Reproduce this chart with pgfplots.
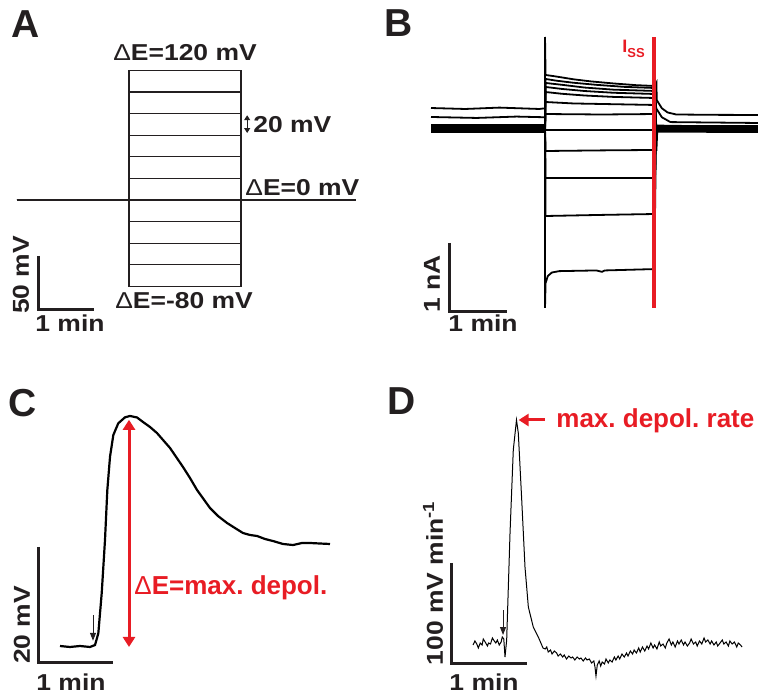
\documentclass[border=0pt]{standalone}
\usepackage{fontspec}
\setmainfont{Liberation Sans}
\usepackage{graphicx}
\usepackage{pgfplots}
\pgfplotsset{compat=1.18}
\usetikzlibrary{arrows.meta}
\definecolor{ink}{RGB}{35,31,32}
\definecolor{figred}{RGB}{232,28,36}
\newcommand\letterfont{\fontsize{19.5}{20}\selectfont\bfseries}
\newcommand\lblfont{\fontsize{11.5}{12}\selectfont\bfseries}
\newcommand\redfont{\fontsize{13}{14}\selectfont\bfseries}
\newcommand\lbl[1]{\scalebox{1.15}[1]{#1}}
\newcommand\D{{\mdseries Δ}}
\frenchspacing
\begin{document}
\begin{tikzpicture}
\useasboundingbox (0,0) rectangle (379pt,347.5pt);
\pgfplotsset{panel/.style={hide axis, clip=false, scale only axis, anchor=south west}}

% ---------------- Panel A: voltage protocol (x: min, y: mV)
\begin{axis}[panel, at={(8.5pt,188.1pt)}, x=28pt, y=0.54pt, xmin=0, xmax=6.1, ymin=-110, ymax=130]
\foreach \E in {-80,-60,-40,-20,20,40,60,80,100,120}{
  \edef\tmp{\noexpand\addplot[ink, line width=0.6pt] coordinates {(0,0)(2,0)(2,\E)(4,\E)(4,0)(6.05,0)};}
  \tmp
}
\addplot[ink, line width=0.6pt] coordinates {(0,0)(6.05,0)};
\addplot[ink, line width=1.5pt] coordinates {(0.375,-51.85)(0.375,-101.85)(1.375,-101.85)};
\draw[ink, line width=0.6pt, {Triangle[width=3pt,length=2.5pt]}-{Triangle[width=3pt,length=2.5pt]}] (axis cs:4.11,78.5) -- (axis cs:4.11,62);
\end{axis}

% ---------------- Panel B: currents (x: min, y: nA)
\begin{axis}[panel, at={(215.5pt,186.4pt)}, x=28.5pt, y=34.5pt, xmin=0, xmax=5.8, ymin=-2.8, ymax=1.5]
\addplot[black, line width=0.9pt] coordinates {(0,0.304)(0.6,0.29)(1.2,0.31)(1.9,0.29)(2.0,0.30)(2.0,1.333)(2.01,0.783)(2.2,0.76)(2.5,0.72)(2.8,0.69)(3.2,0.66)(3.6,0.635)(3.93,0.623)(3.955,0.667)(3.96,0.42)(4.05,0.30)(4.15,0.24)(4.3,0.21)(5.0,0.205)(5.74,0.203)};
\addplot[black, line width=0.9pt] coordinates {(0,0.174)(0.8,0.16)(1.5,0.18)(2.0,0.17)(2.01,0.725)(2.2,0.70)(2.5,0.67)(2.9,0.64)(3.4,0.61)(3.93,0.594)(3.95,0.30)(4.05,0.17)(4.2,0.10)(5.74,0.087)};
\addplot[black, line width=0.9pt] coordinates {(0,0.058)(2.0,0.058)(2.01,0.667)(2.3,0.64)(2.7,0.60)(3.2,0.57)(3.93,0.551)(3.95,0.05)(5.74,0.029)};
\addplot[black, line width=0.9pt] coordinates {(0,0.029)(2.0,0.029)(2.01,0.609)(2.3,0.58)(2.7,0.55)(3.2,0.525)(3.93,0.507)(3.95,0.01)(5.74,0.0)};
\addplot[black, line width=0.9pt] coordinates {(0,0.0)(2.0,0.0)(2.01,0.536)(2.3,0.51)(2.7,0.485)(3.2,0.465)(3.93,0.449)(3.95,-0.02)(5.74,-0.029)};
\addplot[black, line width=0.9pt] coordinates {(0,-0.029)(2.0,-0.029)(2.01,0.391)(2.5,0.37)(3.93,0.348)(3.95,-0.04)(5.74,-0.043)};
\addplot[black, line width=0.9pt] coordinates {(0,-0.043)(2.0,-0.043)(2.01,0.217)(3.0,0.21)(3.93,0.217)(3.95,0.0)(5.74,0.0)};
\addplot[black, line width=0.9pt] coordinates {(0,0.0)(2.0,0.0)(2.01,-0.014)(3.93,-0.014)(3.95,0.014)(5.74,0.014)};
\addplot[black, line width=0.9pt] coordinates {(0,0.014)(2.0,0.014)(2.01,-0.319)(3.0,-0.31)(3.93,-0.304)(3.95,-0.014)(5.74,-0.014)};
\addplot[black, line width=0.9pt] coordinates {(0,-0.014)(2.0,-0.014)(2.01,-0.71)(3.93,-0.71)(3.95,-0.029)(5.74,-0.029)};
\addplot[black, line width=0.9pt] coordinates {(0,0.043)(2.0,0.043)(2.01,-1.261)(3.0,-1.245)(3.93,-1.232)(3.95,0.043)(5.74,0.043)};
\addplot[black, line width=0.9pt] coordinates {(0,-0.029)(2.0,-0.029)(2.0,-2.594)(2.01,-2.232)(2.05,-2.13)(2.12,-2.08)(2.25,-2.06)(2.9,-2.05)(3.0,-2.07)(3.05,-2.05)(3.93,-2.03)(3.93,-0.304)(3.955,-0.304)(3.97,-0.01)(5.74,-0.014)};
\addplot[figred, line width=2pt] coordinates {(3.912,-2.594)(3.912,1.333)};
\addplot[ink, line width=1.5pt] coordinates {(0.333,-1.652)(0.333,-2.652)(1.333,-2.652)};
\end{axis}

% ---------------- Panel C: membrane potential (x: min, y: mV)
\begin{axis}[panel, at={(11.25pt,10pt)}, x=37.5pt, y=2.9pt, xmin=-0.5, xmax=4, ymin=-5, ymax=45]
\addplot[black, line width=1.1pt] coordinates {(0,0)(0.133,-0.17)(0.267,0)(0.4,-0.17)(0.467,0.17)(0.511,2.19)(0.556,9.09)(0.6,18.28)(0.631,26.9)(0.667,32.64)(0.711,36.38)(0.777,38.4)(0.867,39.43)(0.933,39.66)(1.027,39.4)(1.107,38.62)(1.2,37.76)(1.293,36.72)(1.467,34.14)(1.64,30.86)(1.733,28.97)(1.827,26.9)(2.0,23.79)(2.107,22.41)(2.227,21.21)(2.333,20.34)(2.44,19.48)(2.533,19.14)(2.627,18.97)(2.733,18.45)(2.84,18.1)(2.973,17.59)(3.107,17.41)(3.227,17.76)(3.333,17.76)(3.467,17.67)(3.6,17.59)};
\addplot[ink, line width=1.5pt] coordinates {(-0.293,17.07)(-0.293,-2.93)(0.707,-2.93)};
\draw[figred, line width=1.5pt, {Triangle[width=6pt,length=5pt]}-{Triangle[width=6pt,length=5pt]}] (axis cs:0.92,39.0) -- (axis cs:0.92,-0.17);
\draw[ink, line width=0.5pt, -{Triangle[width=3pt,length=4pt]}] (axis cs:0.44,5.3) -- (axis cs:0.44,0.9);
\end{axis}

% ---------------- Panel D: depolarisation rate (x: min, y: mV/min)
\begin{axis}[panel, at={(217.5pt,5pt)}, x=38pt, y=0.5pt, xmin=-0.5, xmax=3.8, ymin=-40, ymax=260]
\addplot[black, line width=0.5pt] coordinates {(0,0)(0.025,4)(0.05,1)(0.07,-3)(0.095,2)(0.12,0)(0.135,6)(0.16,3)(0.19,-1)(0.205,2)(0.23,1)(0.255,7)(0.28,4)(0.3,2)(0.32,5)(0.345,0)(0.37,3)(0.385,8)(0.405,6)(0.421,-12)(0.443,5)(0.487,112)(0.530,195)(0.572,225)(0.596,212)(0.641,145)(0.684,78)(0.728,38)(0.793,18)(0.859,8)(0.921,-3)(0.95,-4)(0.97,-2)(0.99,-7)(1.02,-5)(1.04,-9)(1.07,-6)(1.10,-8)(1.12,-11)(1.15,-9)(1.18,-12)(1.2,-10)(1.23,-14)(1.26,-11)(1.29,-13)(1.31,-12)(1.34,-15)(1.37,-12)(1.40,-14)(1.42,-13)(1.45,-16)(1.48,-13)(1.5,-15)(1.53,-14)(1.56,-18)(1.59,-16)(1.605,-22)(1.618,-31)(1.635,-20)(1.66,-16)(1.68,-21)(1.70,-17)(1.73,-19)(1.75,-14)(1.78,-18)(1.80,-15)(1.83,-17)(1.86,-12)(1.88,-15)(1.91,-11)(1.93,-14)(1.96,-9)(1.99,-12)(2.02,-8)(2.04,-11)(2.07,-6)(2.10,-9)(2.12,-5)(2.15,-8)(2.18,-3)(2.2,-7)(2.23,-2)(2.26,-6)(2.29,-1)(2.31,-4)(2.34,2)(2.37,-3)(2.39,0)(2.42,-4)(2.45,3)(2.47,-1)(2.5,1)(2.53,-3)(2.55,2)(2.58,6)(2.61,0)(2.63,3)(2.66,-2)(2.69,4)(2.71,1)(2.74,5)(2.77,0)(2.79,3)(2.82,-1)(2.85,2)(2.87,6)(2.9,1)(2.93,3)(2.95,-1)(2.98,4)(3.01,1)(3.04,7)(3.06,3)(3.09,5)(3.12,1)(3.14,4)(3.17,0)(3.2,3)(3.22,-1)(3.25,2)(3.28,5)(3.3,1)(3.33,3)(3.36,-1)(3.38,4)(3.41,1)(3.44,3)(3.47,-2)(3.49,2)(3.52,0)(3.54,-2)};
\addplot[ink, line width=1.5pt] coordinates {(-0.289,82)(-0.289,-18)(0.711,-18)};
\draw[figred, line width=1.5pt, -{Triangle[width=6pt,length=5pt]}] (axis cs:0.947,225) -- (axis cs:0.60,225);
\draw[ink, line width=0.5pt, -{Triangle[width=3pt,length=4pt]}] (axis cs:0.395,35) -- (axis cs:0.395,10);
\end{axis}

% ---------------- texts (pixel positions of the figure, y downward)
\begin{scope}[x=0.5pt, y=-0.5pt, shift={(0pt,347.5pt)}, text=ink, inner sep=0pt]
\node[anchor=base, font=\letterfont] at (26,38) {A};
\node[anchor=base, font=\lblfont] at (185,61) {\lbl{\D E=120 mV}};
\node[anchor=base west, font=\lblfont] at (253,133) {\lbl{20 mV}};
\node[anchor=base west, font=\lblfont] at (245,196) {\lbl{\D E=0 mV}};
\node[anchor=base, font=\lblfont] at (184,309) {\lbl{\D E=-80 mV}};
\node[rotate=90, font=\lblfont] at (21,275) {\lbl{50 mV}};
\node[anchor=base, font=\lblfont] at (70,332) {\lbl{1 min}};

\node[anchor=base, font=\letterfont] at (399,37) {B};
\node[anchor=base west, text=figred, font=\bfseries] at (622,53) {{\fontsize{9}{9}\selectfont I}{\fontsize{6.5}{7}\selectfont\raisebox{-2.2pt}{SS}}};
\node[rotate=90, font=\lblfont] at (432,284) {\lbl{1 nA}};
\node[anchor=base, font=\lblfont] at (483,332) {\lbl{1 min}};

\node[anchor=base, font=\letterfont] at (23,417) {C};
\node[anchor=base west, text=figred, font=\redfont] at (134,594) {\D E=max. depol.};
\node[rotate=90, font=\lblfont] at (22,625) {\lbl{20 mV}};
\node[anchor=base, font=\lblfont] at (71,690) {\lbl{1 min}};

\node[anchor=base, font=\letterfont] at (402,415) {D};
\node[anchor=base west, text=figred, font=\redfont] at (556,428) {max. depol. rate};
\node[rotate=90, font=\lblfont] at (433,583) {\lbl{100 mV min\textsuperscript{-1}}};
\node[anchor=base, font=\lblfont] at (484,690) {\lbl{1 min}};
\end{scope}
\end{tikzpicture}
\end{document}
